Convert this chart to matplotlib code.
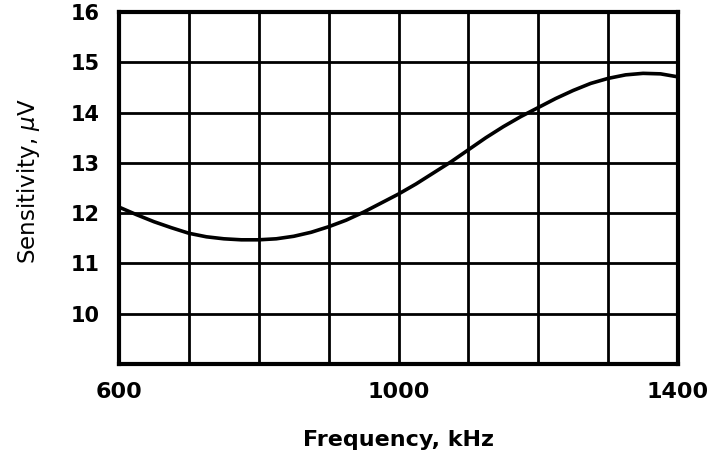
import numpy as np
import matplotlib.pyplot as plt

plt.rcParams['font.family'] = ['DejaVu Sans']

# Values.
freq_khz = [600, 625, 650, 675, 700, 725, 750, 775, 800, 825, 850, 875, 900,
            925, 950, 975, 1000, 1025, 1050, 1075, 1100, 1125, 1150, 1175,
            1200, 1225, 1250, 1275, 1300, 1325, 1350, 1375, 1400]
sensitivity_uv = [12.12, 11.97, 11.83, 11.71, 11.6, 11.53, 11.49, 11.47, 11.47,
                  11.49, 11.54, 11.62, 11.73, 11.86, 12.02, 12.2, 12.38, 12.58,
                  12.8, 13.02, 13.26, 13.5, 13.72, 13.92, 14.1, 14.28, 14.44,
                  14.58, 14.68, 14.75, 14.78, 14.77, 14.71]
y_ticks = [10, 11, 12, 13, 14, 15, 16]
x_ticks = [600, 1000, 1400]

fig = plt.figure(figsize=(7.11, 4.58), dpi=100)
ax = fig.add_axes([0.1674, 0.2052, 0.7862, 0.7686])

ax.plot(freq_khz, sensitivity_uv, color='black', lw=2.6, solid_capstyle='round', zorder=3)

ax.set_xlim(600, 1400)
ax.set_ylim(9, 16)
ax.set_xticks(np.arange(600, 1401, 100), minor=True)
ax.set_xticks(x_ticks)
ax.set_yticks(y_ticks)
ax.grid(True, which='both', color='black', lw=2)
ax.tick_params(which='both', length=0)
ax.tick_params(axis='x', pad=13, labelsize=16)
ax.tick_params(axis='y', pad=14, labelsize=15)
for lbl in ax.get_xticklabels() + ax.get_yticklabels():
    lbl.set_fontweight('bold')
for s in ax.spines.values():
    s.set_linewidth(3)

ax.set_xlabel('Frequency, kHz', fontsize=16, fontweight='bold', labelpad=20)
ax.set_ylabel('Sensitivity, $\\mu$V', fontsize=16.5)
ax.yaxis.set_label_coords(-0.138, 0.52)

fig.savefig('out.png', dpi=100)
